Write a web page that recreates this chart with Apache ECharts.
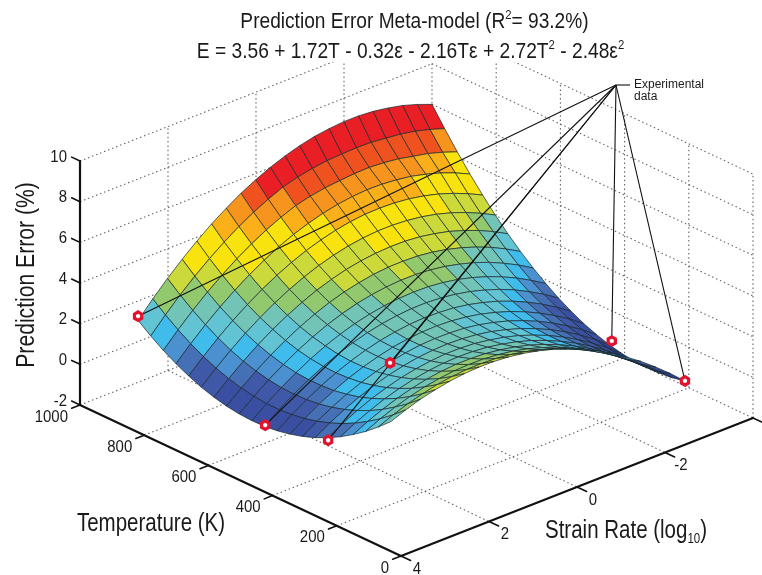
<!DOCTYPE html>
<html><head><meta charset="utf-8">
<script src="https://cdn.jsdelivr.net/npm/echarts@6/dist/echarts.min.js"></script>
<style>html,body{margin:0;padding:0;background:#fff}#c{width:762px;height:575px}</style>
</head><body><div id="c"></div>
<script>
// ---------- data ----------
const temperatures = [1000,960.6,921.2,881.8,842.4,803,763.6,724.2,684.8,645.4,606,566.6,527.2,487.8,448.4,409,369.6,330.2,290.8,251.4,212];
const strainRates = [-4,-3.666,-3.332,-2.998,-2.664,-2.33,-1.996,-1.662,-1.328,-0.994,-0.66,-0.326,0.008,0.342,0.676,1.01,1.344,1.678,2.012,2.346,2.68];
// height of the surface above the floor of the box (one row per temperature, one column per strain rate)
const row00 = [8.00,8.28,8.51,8.67,8.79,8.85,8.85,8.79,8.69,8.52,8.30,8.02,7.69,7.31,6.86,6.37,5.81,5.20,4.54,3.82,3.04];
const row01 = [7.10,7.34,7.54,7.68,7.76,7.84,7.86,7.83,7.79,7.69,7.55,7.34,7.03,6.67,6.25,5.77,5.24,4.66,4.02,3.32,2.57];
const row02 = [6.25,6.51,6.73,6.88,7.04,7.13,7.18,7.16,7.10,7.03,6.90,6.72,6.43,6.09,5.69,5.24,4.73,4.17,3.55,2.88,2.15];
const row03 = [5.45,5.79,6.07,6.29,6.47,6.58,6.65,6.66,6.61,6.51,6.35,6.14,5.88,5.56,5.18,4.75,4.27,3.73,3.14,2.49,1.79];
const row04 = [4.71,5.06,5.36,5.61,5.80,5.94,6.02,6.05,6.03,5.95,5.81,5.62,5.38,5.08,4.73,4.32,3.86,3.35,2.78,2.15,1.48];
const row05 = [4.02,4.39,4.71,4.98,5.19,5.35,5.45,5.50,5.50,5.44,5.33,5.16,4.94,4.66,4.33,3.95,3.51,3.02,2.47,1.87,1.22];
const row06 = [3.39,3.78,4.12,4.40,4.64,4.81,4.94,5.01,5.02,4.98,4.89,4.75,4.55,4.30,3.99,3.63,3.22,2.75,2.22,1.65,1.02];
const row07 = [2.81,3.22,3.58,3.88,4.13,4.33,4.48,4.57,4.60,4.59,4.52,4.39,4.22,3.99,3.70,3.36,2.97,2.53,2.03,1.48,0.87];
const row08 = [2.29,2.72,3.09,3.42,3.69,3.90,4.07,4.18,4.24,4.24,4.19,4.09,3.94,3.73,3.47,3.15,2.78,2.36,1.89,1.36,0.78];
const row09 = [1.82,2.26,2.66,3.00,3.29,3.53,3.72,3.85,3.93,3.95,3.92,3.84,3.71,3.53,3.29,3.00,2.65,2.25,1.80,1.30,0.74];
const row10 = [1.40,1.87,2.28,2.65,2.96,3.21,3.42,3.57,3.67,3.72,3.71,3.65,3.54,3.38,3.16,2.89,2.57,2.20,1.77,1.29,0.76];
const row11 = [1.04,1.53,1.96,2.34,2.67,2.95,3.17,3.35,3.47,3.53,3.55,3.51,3.42,3.28,3.09,2.84,2.55,2.20,1.79,1.34,0.83];
const row12 = [0.73,1.24,1.69,2.09,2.44,2.74,2.98,3.18,3.32,3.41,3.45,3.43,3.36,3.25,3.07,2.85,2.58,2.25,1.87,1.44,0.96];
const row13 = [0.48,1.01,1.48,1.90,2.27,2.58,2.85,3.06,3.23,3.34,3.39,3.40,3.36,3.26,3.11,2.91,2.66,2.36,2.00,1.60,1.14];
const row14 = [0.28,0.83,1.32,1.76,2.15,2.48,2.77,3.00,3.19,3.32,3.40,3.43,3.40,3.33,3.20,3.03,2.80,2.52,2.19,1.81,1.37];
const row15 = [0.14,0.70,1.21,1.67,2.08,2.44,2.74,3.00,3.20,3.35,3.46,3.51,3.51,3.45,3.35,3.20,2.99,2.74,2.43,2.07,1.66];
const row16 = [0.05,0.63,1.16,1.64,2.07,2.44,2.77,3.05,3.27,3.44,3.57,3.64,3.66,3.63,3.55,3.42,3.24,3.01,2.72,2.39,2.00];
const row17 = [0.02,0.62,1.16,1.66,2.11,2.51,2.85,3.15,3.40,3.59,3.73,3.83,3.87,3.87,3.81,3.70,3.54,3.33,3.07,2.76,2.40];
const row18 = [0.04,0.66,1.22,1.74,2.21,2.62,2.99,3.31,3.57,3.79,3.96,4.07,4.14,4.15,4.12,4.03,3.90,3.71,3.48,3.19,2.85];
const row19 = [0.11,0.75,1.33,1.87,2.36,2.79,3.18,3.52,3.81,4.04,4.23,4.37,4.46,4.49,4.48,4.42,4.31,4.14,3.93,3.67,3.36];
const row20 = [0.24,0.90,1.50,2.06,2.56,3.02,3.43,3.79,4.09,4.35,4.56,4.72,4.83,4.89,4.90,4.86,4.77,4.63,4.45,4.21,3.92];
const surfaceRows = [row00,row01,row02,row03,row04,row05,row06,row07,row08,row09,row10,row11,row12,row13,row14,row15,row16,row17,row18,row19,row20];
// experimental points: temperature, strain rate, prediction error
const expTemperature = [1000,604,408,500,440,212];
const expStrain = [2.68,2.68,2.68,0.6,-4,-4];
const expError = [1.25,-1.17,-0.46,0.9,-1.48,-1.75];
// tick labels
const zTicks = [-2,0,2,4,6,8,10];
const tTicks = [1000,800,600,400,200,0];
const sTicks = [4,2,0,-2];
const sBoxEnd = -4;

// ---------- colour bands (upper limit of the band, colour) ----------
const bandLimits = [0.6,1.35,1.7,2.05,2.4,2.85,3.35,3.9,4.4,5.18,6.1,6.5,6.95,7.515,99];
const bandColors = ['#2C3E92','#3A4FA2','#4058A8','#4670B6','#4B90CF','#3FBBEC','#62C4D3','#72C5B6','#93C96E','#CBD93A','#F9E30F','#FBB019','#F7941E','#F0521F','#EA1F26'];

// ---------- oblique box projection onto the page plane ----------
const floorZ = -2;
function project(T, S, Z) {
  return [401 - 0.321 * T + 44 * (4 - S), 556 - 0.151 * T - 17.25 * (4 - S) - 20.33 * (Z - floorZ)];
}
function colorOf(v) {
  for (let k = 0; k < bandLimits.length; k++) if (v < bandLimits[k]) return bandColors[k];
  return bandColors[bandColors.length - 1];
}
const SANS = '"Liberation Sans",Arial,sans-serif';

// segments of box grid
const gridSegs = [];
const Tmax = 1000, Tmin = 0, Smax = 4, Smin = sBoxEnd, Zmax = 10;
zTicks.forEach(z => {
  gridSegs.push([[Tmax,Smax,z],[Tmax,Smin,z]]);
  gridSegs.push([[Tmax,Smin,z],[Tmin,Smin,z]]);
});
sTicks.concat([Smin]).forEach(s => {
  if (s === Smax) return;
  gridSegs.push([[Tmax,s,floorZ],[Tmax,s,Zmax]]);
  if (s !== Smin) gridSegs.push([[Tmax,s,floorZ],[Tmin,s,floorZ]]);
});
tTicks.forEach(t => {
  if (t === Tmax) return;
  gridSegs.push([[t,Smin,floorZ],[t,Smin,Zmax]]);
  if (t !== Tmin) gridSegs.push([[t,Smax,floorZ],[t,Smin,floorZ]]);
});

// solid axes and ticks
const axisSegs = [
  {a:[Tmax,Smax,floorZ],b:[Tmax,Smax,Zmax],w:2.2},
  {a:[Tmax,Smax,floorZ],b:[Tmin,Smax,floorZ],w:2.2},
  {a:[Tmin,Smax,floorZ],b:[Tmin,Smin,floorZ],w:2.2}
];
zTicks.forEach(z => axisSegs.push({a:[Tmax,Smax,z],b:[Tmax+26,Smax,z],w:1.6}));
tTicks.forEach(t => axisSegs.push({a:[t,Smax,floorZ],b:[t,Smax+0.19,floorZ],w:1.6}));
sTicks.concat([Smin]).forEach(s => axisSegs.push({a:[Tmin,s,floorZ],b:[Tmin-30,s,floorZ],w:1.6}));

// surface cells, far corner first
const cells = [];
for (let j = 0; j < temperatures.length - 1; j++) {
  for (let i = 0; i < strainRates.length - 1; i++) cells.push([j, i]);
}
const hub = [616, 85];

// text items
const texts = [];
zTicks.forEach(z => {
  const p = project(Tmax, Smax, z);
  texts.push({x:p[0]-13,y:p[1]-4,t:String(z),align:'right',size:17,sx:0.88});
});
tTicks.forEach(t => {
  const p = project(t, Smax, floorZ);
  texts.push({x:p[0]-12,y:p[1]+12,t:String(t),align:'right',size:17,sx:0.88});
});
sTicks.forEach(s => {
  const p = project(Tmin, s, floorZ);
  texts.push({x:p[0]+16,y:p[1]+13,t:String(s),align:'center',size:17,sx:0.88});
});
texts.push({x:414.5,y:22,t:'Prediction Error Meta-model (R{sup|2}= 93.2%)',align:'center',size:22,sx:0.87});
texts.push({x:410.5,y:52,t:'E = 3.56 + 1.72T - 0.32ε - 2.16Tε + 2.72T{sup|2} - 2.48ε{sup|2}',align:'center',size:22,sx:0.873});
texts.push({x:27,y:275,t:'Prediction Error (%)',align:'center',size:25,rot:Math.PI/2,sx:0.845});
texts.push({x:151,y:524,t:'Temperature (K)',align:'center',size:25,sx:0.82});
texts.push({x:626,y:531,t:'Strain Rate (log{sub|10})',align:'center',size:25,sx:0.82});
texts.push({x:634,y:85,t:'Experimental',align:'left',size:12,sx:1});
texts.push({x:634,y:97,t:'data',align:'left',size:12,sx:1});

function lineItem(p, q, style) {
  return {type:'line',shape:{x1:p[0],y1:p[1],x2:q[0],y2:q[1]},style:style,silent:true};
}
function base(name, z, data, render) {
  return {type:'custom',name:name,z:z,data:data,renderItem:render,silent:true,clip:false,animation:false,coordinateSystem:'cartesian2d',encode:{x:0,y:1}};
}

const chart = echarts.init(document.getElementById('c'), null, {renderer:'canvas'});
chart.setOption({
  animation:false,
  backgroundColor:'#fff',
  tooltip:{show:false},
  grid:{left:0,right:0,top:0,bottom:0},
  xAxis:{type:'value',min:0,max:762,show:false},
  yAxis:{type:'value',min:0,max:575,inverse:true,show:false},
  graphic:[{type:'rect',z:2,shape:{x:0,y:0,width:762,height:62},style:{fill:'#fff'},silent:true}],
  series:[
    base('box grid',1,gridSegs.map((s,n)=>[n,0]),function(p,api){
      const s = gridSegs[p.dataIndex];
      const a = project.apply(null,s[0]), b = project.apply(null,s[1]);
      return lineItem(api.coord(a),api.coord(b),{stroke:'#666',lineWidth:1.1,lineDash:[1.5,2.8],fill:null});
    }),
    base('axes',3,axisSegs.map((s,n)=>[n,0]),function(p,api){
      const s = axisSegs[p.dataIndex];
      const a = project.apply(null,s.a), b = project.apply(null,s.b);
      return lineItem(api.coord(a),api.coord(b),{stroke:'#111',lineWidth:s.w,lineCap:'round',fill:null});
    }),
    base('surface',10,cells.map((c,n)=>[n,0]),function(p,api){
      const j = cells[p.dataIndex][0], i = cells[p.dataIndex][1];
      const corners = [[j,i],[j,i+1],[j+1,i+1],[j+1,i]];
      let sum = 0;
      const pts = corners.map(c=>{
        const v = surfaceRows[c[0]][c[1]];
        sum += v;
        return api.coord(project(temperatures[c[0]],strainRates[c[1]],floorZ+v));
      });
      return {type:'polygon',shape:{points:pts},silent:true,
        style:{fill:colorOf(sum/4),stroke:'rgba(25,40,45,0.78)',lineWidth:0.9,lineJoin:'round'}};
    }),
    base('leaders',12,expError.map((e,n)=>[n,0]),function(p,api){
      const n = p.dataIndex;
      const q = project(expTemperature[n],expStrain[n],expError[n]);
      return lineItem(api.coord(hub),api.coord(q),{stroke:'#111',lineWidth:1.1,fill:null});
    }),
    base('hub line',12,[[0,0]],function(p,api){
      return lineItem(api.coord(hub),api.coord([hub[0]+14,hub[1]]),{stroke:'#111',lineWidth:1.1,fill:null});
    }),
    base('experimental data',13,expError.map((e,n)=>[n,0]),function(p,api){
      const n = p.dataIndex;
      const c = api.coord(project(expTemperature[n],expStrain[n],expError[n]));
      const pts = [];
      for (let k = 0; k < 6; k++) {
        const a = Math.PI/3*k + Math.PI/6;
        pts.push([c[0]+4.2*Math.cos(a),c[1]+4.2*Math.sin(a)]);
      }
      return {type:'polygon',shape:{points:pts},silent:true,style:{fill:'#fff',stroke:'#E3122D',lineWidth:3.2}};
    }),
    base('labels',20,texts.map((s,n)=>[n,0]),function(p,api){
      const s = texts[p.dataIndex];
      const c = api.coord([s.x,s.y]);
      return {type:'text',x:c[0],y:c[1],rotation:s.rot||0,scaleX:s.sx,scaleY:1,silent:true,
        style:{text:s.t,fill:'#1a1a1a',align:s.align,verticalAlign:'middle',
          fontFamily:SANS,fontSize:s.size,fontWeight:'normal',
          rich:{
            sub:{fontFamily:SANS,fontSize:14,fill:'#1a1a1a',verticalAlign:'bottom',lineHeight:30},
            sup:{fontFamily:SANS,fontSize:13,fill:'#1a1a1a',verticalAlign:'top',lineHeight:26}
          }}};
    })
  ]
});
</script></body></html>
